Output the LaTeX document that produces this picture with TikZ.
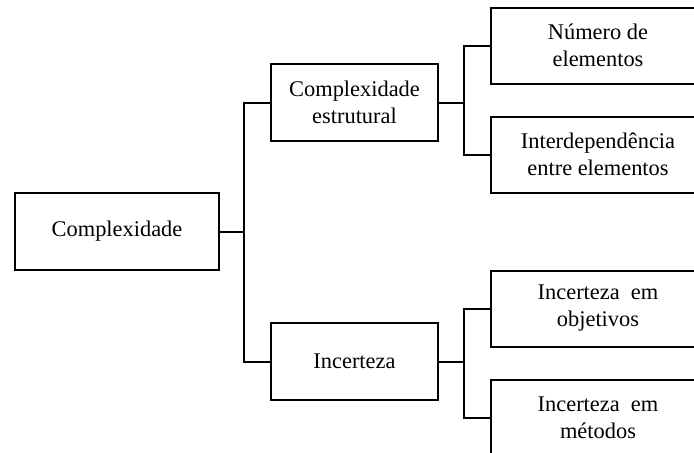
\documentclass[tikz,border=0pt]{standalone}
\usepackage{fontspec}
\setmainfont{Liberation Serif}
\usepackage{tikz}
\usetikzlibrary{positioning}
\tikzset{
  treebox/.style={draw=black,line width=1pt,rectangle,align=center,inner sep=2pt,
    minimum height=38.5pt,font=\fontsize{11.2}{13.5}\selectfont},
  rootbox/.style={treebox,minimum width=102pt},
  midbox/.style={treebox,minimum width=83.5pt},
  leafbox/.style={treebox,minimum width=107pt,minimum height=38pt},
  treeline/.style={line width=1pt,black}
}
\begin{document}
\begin{tikzpicture}[x=0.5pt,y=-0.5pt]
\clip (0,0) rectangle (694,452);
\node[rootbox] (cpx) at (117,231.5) {Complexidade};
\node[midbox,above right=25pt and 25pt of cpx] (estr) {Complexidade\\estrutural};
\node[midbox,below right=25.5pt and 25pt of cpx] (inc) {Incerteza};
\node[leafbox,right=25.5pt of estr,yshift=28.5pt] (num) {Número de\\elementos};
\node[leafbox,below=15.5pt of num] (inter) {Interdependência\\entre elementos};
\node[leafbox,right=25.5pt of inc,yshift=26.5pt] (obj) {Incerteza~ em\\objetivos};
\node[leafbox,below=15.5pt of obj] (met) {Incerteza~ em\\métodos};
\coordinate (j1) at ([xshift=12pt]cpx.east);
\coordinate (j2) at ([xshift=12.5pt]estr.east);
\coordinate (j3) at ([xshift=12.5pt]inc.east);
\draw[treeline] (cpx.east) -- (j1);
\draw[treeline] (estr.west) -| (j1) |- (inc.west);
\draw[treeline] (estr.east) -- (j2);
\draw[treeline] (num.west) -| (j2) |- (inter.west);
\draw[treeline] (inc.east) -- (j3);
\draw[treeline] (obj.west) -| (j3) |- (met.west);
\end{tikzpicture}
\end{document}
